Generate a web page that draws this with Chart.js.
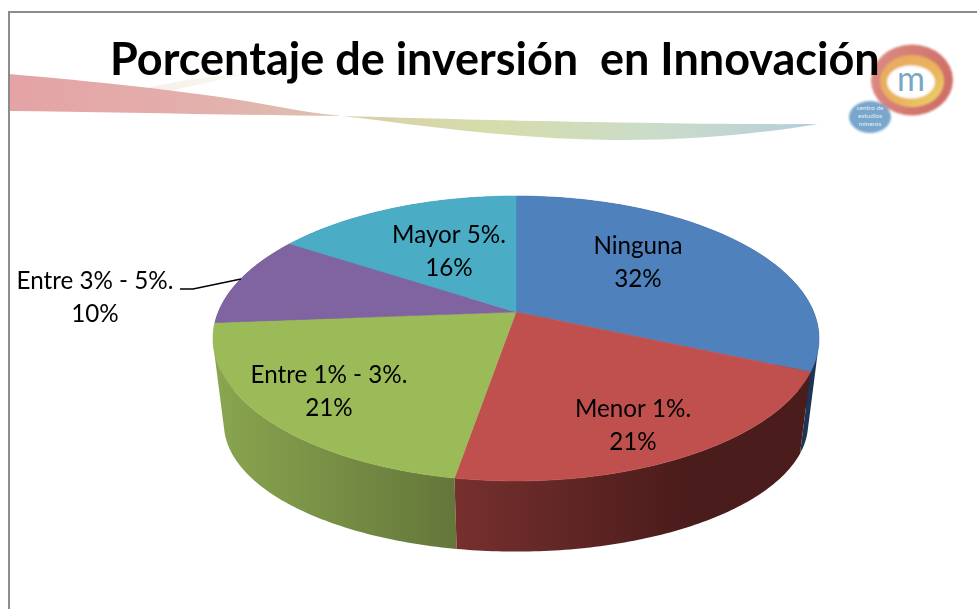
<!DOCTYPE html>
<html>
<head>
<meta charset="utf-8">
<title>Porcentaje de inversión en Innovación</title>
<script src="https://cdn.jsdelivr.net/npm/chart.js@4"></script>
<style>
html,body{margin:0;padding:0;background:#fff;overflow:hidden}
#marco{position:absolute;left:8px;top:11px;width:969px;height:598px;border-left:2px solid #8c8c8c;border-top:2px solid #8c8c8c;box-sizing:border-box}
#fondo{position:absolute;left:0;top:0}
#grafica{position:absolute;left:0;top:0}
</style>
</head>
<body>

<svg id="fondo" width="977" height="609" xmlns="http://www.w3.org/2000/svg">
<defs>
<linearGradient id="ondaRoja" x1="0" x2="1" y1="0" y2="0">
<stop offset="0" stop-color="#e4a3a6"/>
<stop offset="0.6" stop-color="#e3b0ac"/>
<stop offset="1" stop-color="#dcc3ae"/>
</linearGradient>
<linearGradient id="ondaVerde" x1="0" x2="1" y1="0" y2="0">
<stop offset="0" stop-color="#d8cfa8"/>
<stop offset="0.3" stop-color="#d6dcaa"/>
<stop offset="0.65" stop-color="#cbdcc8"/>
<stop offset="1" stop-color="#b4cfdc"/>
</linearGradient>
<linearGradient id="ondaClara" x1="0" x2="1" y1="0" y2="0">
<stop offset="0" stop-color="#f8eeea"/>
<stop offset="1" stop-color="#f9f8ee"/>
</linearGradient>
<linearGradient id="aro" x1="0" x2="1" y1="0" y2="0.3">
<stop offset="0" stop-color="#dc8d84"/>
<stop offset="1" stop-color="#cf6f68"/>
</linearGradient>
<linearGradient id="aroInt" x1="0" x2="1" y1="0" y2="1">
<stop offset="0" stop-color="#e8a862"/>
<stop offset="0.6" stop-color="#eab45c"/>
<stop offset="1" stop-color="#ead86e"/>
</linearGradient>
<filter id="suave"><feGaussianBlur stdDeviation="0.7"/></filter>
<filter id="suaveLogo"><feGaussianBlur stdDeviation="1.3"/></filter>
</defs>
<g filter="url(#suave)">
<path d="M130 92 C170 82 205 76 245 74 C220 80 190 86 150 96 Z" fill="url(#ondaClara)"/>
<path d="M9 74 C100 82 200 92 280 107 C300 111 320 114 342 116 C230 115 110 112 9 111 Z" fill="url(#ondaRoja)"/>
<path d="M342 116 C480 120 680 125 818 124 C760 134 680 141 610 140 C510 139 420 125 342 116 Z" fill="url(#ondaVerde)"/>
</g>
<g filter="url(#suaveLogo)">
<ellipse cx="912" cy="80" rx="41" ry="35.5" fill="url(#aro)"/>
<ellipse cx="912" cy="81" rx="32" ry="26" fill="url(#aroInt)"/>
<ellipse cx="911" cy="82" rx="24" ry="16.5" fill="#ffffff"/>
<ellipse cx="870" cy="117" rx="21" ry="16" fill="#78a6cc"/>
</g>
<text x="911" y="91" text-anchor="middle" font-family="Lato" font-size="34" fill="#7aa7c4">m</text>
<text x="870" y="110" text-anchor="middle" font-family="Lato" font-size="6.5" fill="#e6eef6">centro de</text>
<text x="870" y="118" text-anchor="middle" font-family="Lato" font-size="6.5" fill="#e6eef6">estudios</text>
<text x="870" y="126" text-anchor="middle" font-family="Lato" font-size="6.5" fill="#e6eef6">mineros</text>
</svg>

<div id="marco"></div>
<canvas id="grafica" width="977" height="609"></canvas>

<script>

const titulo = "Porcentaje de inversión  en Innovación"

const categorias = ["Ninguna","Menor 1%.","Entre 1% - 3%.","Entre 3% - 5%.","Mayor 5%."]
const valores = [31.6,21.1,21.1,10.4,15.8]

const colores = ["#4f81bd","#c0504d","#9bbb59","#8064a2","#4bacc6"]

// colores de la pared lateral, de izquierda a derecha
const paredes = [
["#1f3a5f","#1c3554"],
["#76302e","#4a1c1b"],
["#8aa64f","#64763a"],
["#4d3c62","#4d3c62"],
["#2d6777","#2d6777"]
]

// separacion de cada etiqueta respecto al centro de la torta
const posEtiquetas = [[122,-50],[117,113],[-187,79],[-421,-15],[-67,-61]]

// perspectiva de la torta
const fuga = -0.186
const cara = {ancho:297.7, alto:79.5, baja:0}
const base = {ancho:287, alto:49, baja:88}

function proyectar(arc,ang,p){
const u = Math.cos(ang)
const v = Math.sin(ang)
const d = 1 + fuga*v
return [
arc.x + p.ancho*u/d,
(arc.y + p.baja + p.alto*v)/d
]
}

function borde(arc,p,desde,hasta){
const pasos = 90
let puntos = []
for(let i=0;i<=pasos;i++){
puntos.push(proyectar(arc,desde+(hasta-desde)*i/pasos,p))
}
return puntos
}

function agregar(ctx,puntos){
puntos.forEach((q,i)=>{
if(i===0) ctx.moveTo(q[0],q[1])
else ctx.lineTo(q[0],q[1])
})
ctx.closePath()
}

const torta3d = {
id:"torta3d",

beforeDatasetDraw(chart){

const ctx = chart.ctx
const arcos = chart.getDatasetMeta(0).data

ctx.save()

// primero las paredes de atras, las de adelante las tapan
;[3,4,0,2,1].forEach(i=>{
const a = arcos[i]
const arriba = borde(a,cara,a.startAngle,a.endAngle)
const abajo = borde(a,base,a.startAngle,a.endAngle)
const xs = arriba.concat(abajo).map(q=>q[0])
const g = ctx.createLinearGradient(Math.min(...xs),0,Math.max(...xs),0)
g.addColorStop(0,paredes[i][0])
g.addColorStop(i===1 ? 0.65 : 1,paredes[i][1])
if(i===1) g.addColorStop(1,paredes[i][1])
ctx.fillStyle = g
// por tramos en un solo path, un poligono deja un hueco donde la pared dobla
ctx.beginPath()
for(let j=0;j<arriba.length-1;j++){
const q1 = arriba[j], q2 = arriba[j+1], q3 = abajo[j+1], q4 = abajo[j]
// mismo sentido de giro en todos los tramos
const area = (q2[0]-q1[0])*(q3[1]-q1[1]) - (q2[1]-q1[1])*(q3[0]-q1[0])
agregar(ctx, area>=0 ? [q1,q2,q3,q4] : [q4,q3,q2,q1])
}
ctx.fill()
})

arcos.forEach((a,i)=>{
const centro = [a.x,a.y]
const puntos = [centro].concat(borde(a,cara,a.startAngle,a.endAngle))
ctx.fillStyle = colores[i]
ctx.strokeStyle = colores[i]
ctx.lineWidth = 0.6
ctx.beginPath()
agregar(ctx,puntos)
ctx.fill()
ctx.stroke()
})

ctx.restore()
return false

},

afterDatasetsDraw(chart){

const ctx = chart.ctx
const arcos = chart.getDatasetMeta(0).data

ctx.save()
ctx.fillStyle = "#000"
ctx.font = "24.2px Lato"
ctx.textAlign = "center"
ctx.textBaseline = "middle"

arcos.forEach((a,i)=>{
const x = a.x + posEtiquetas[i][0]
const y = a.y + posEtiquetas[i][1]
ctx.fillText(categorias[i],x,y-16)
ctx.fillText(Math.round(valores[i])+"%",x,y+17)
})

// linea guia de Entre 3% - 5%.
const a3 = arcos[3]
ctx.strokeStyle = "#000"
ctx.lineWidth = 1.4
ctx.beginPath()
ctx.moveTo(a3.x-336,a3.y-23)
ctx.lineTo(a3.x-323,a3.y-23)
ctx.lineTo(a3.x-275,a3.y-33)
ctx.stroke()

ctx.restore()

}
}

new Chart(document.getElementById("grafica"),{

type:"pie",

data:{
labels:categorias,
datasets:[{
data:valores,
backgroundColor:colores,
borderWidth:0
}]
},

plugins:[torta3d],

options:{
responsive:false,
animation:false,
layout:{padding:{left:110,right:55,top:0,bottom:72}},
plugins:{
legend:{display:false},
tooltip:{enabled:false},
title:{
display:true,
text:titulo,
align:"start",
color:"#000",
font:{family:"Lato",size:45,weight:"bold",lineHeight:1.2},
padding:{top:33,bottom:0}
}
}
}

})

</script>
</body>
</html>
